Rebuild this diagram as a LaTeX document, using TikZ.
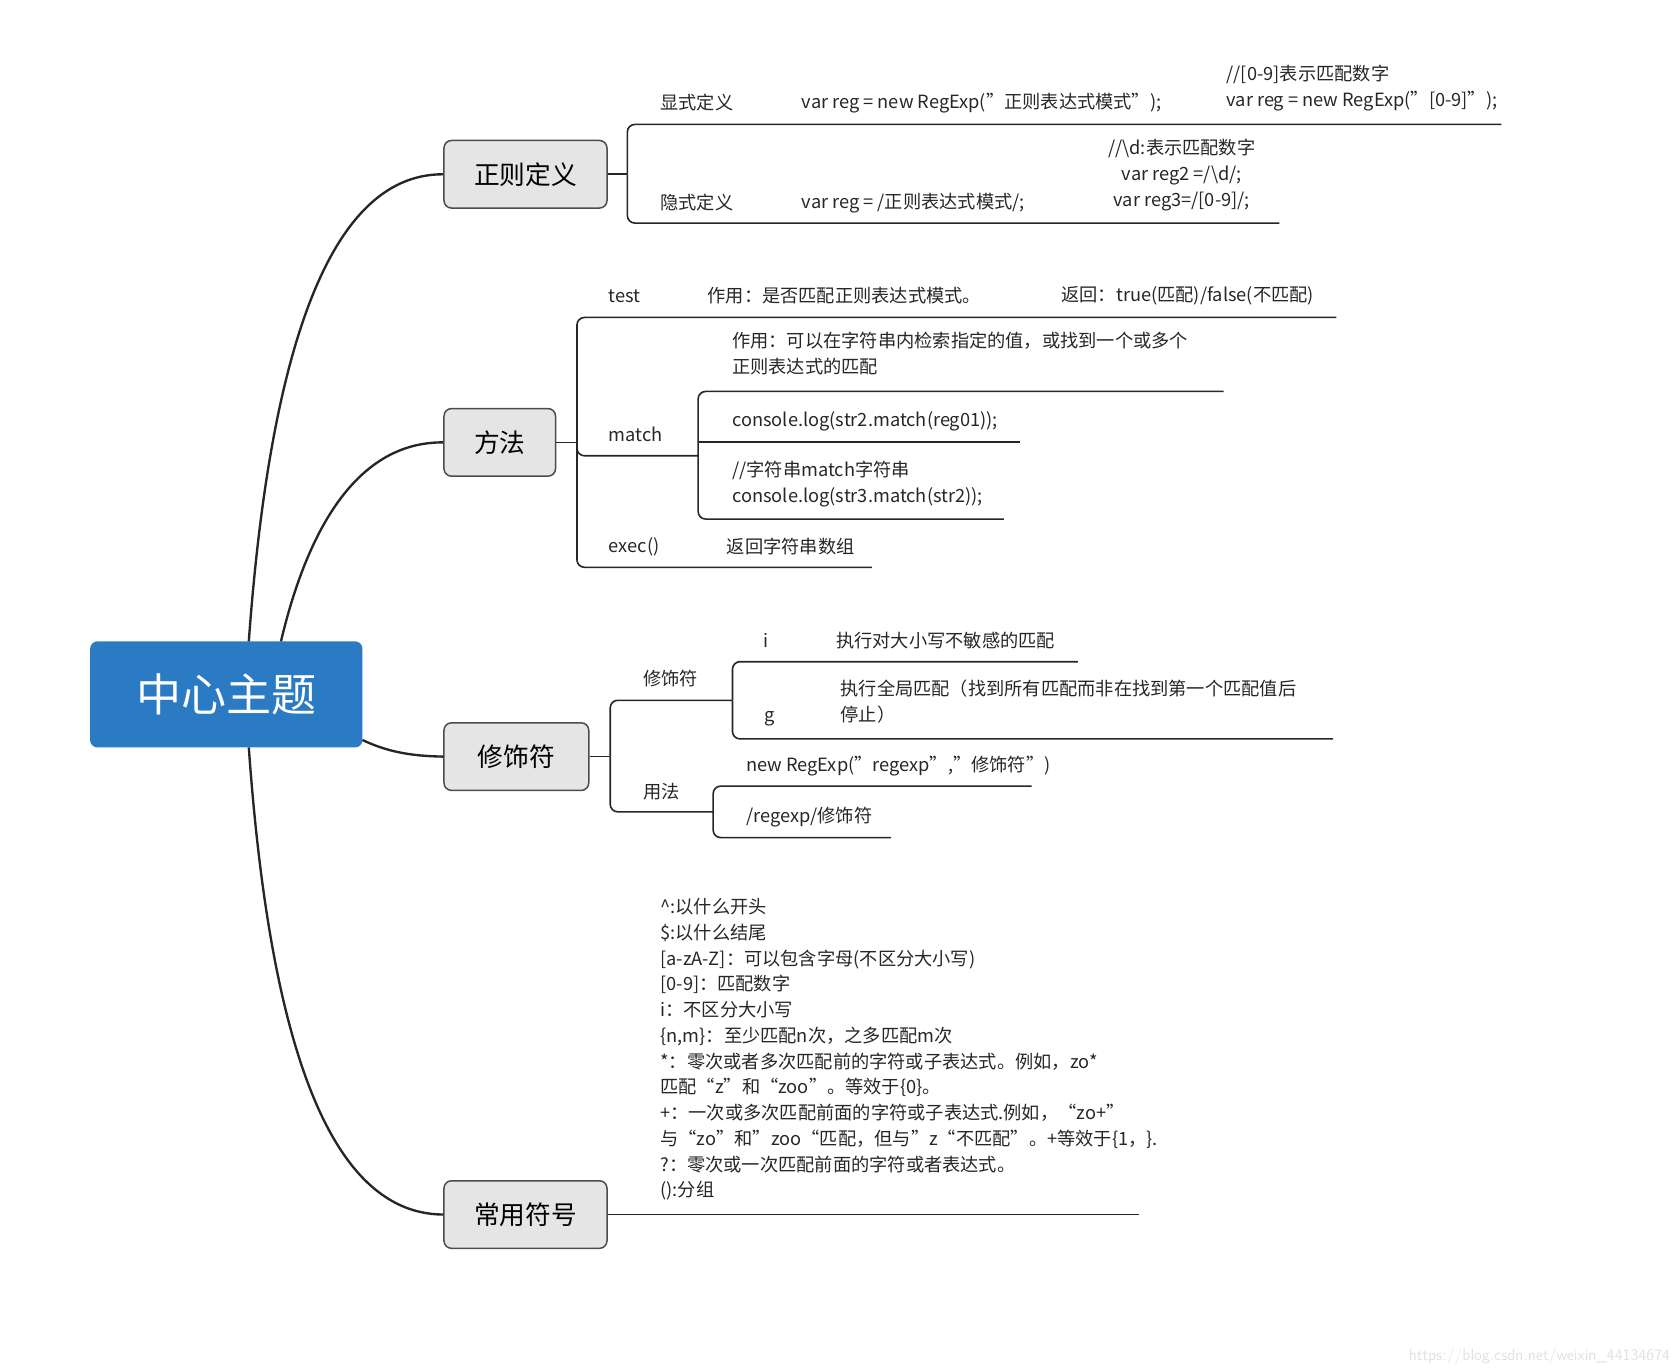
\documentclass[tikz,border=0pt]{standalone}
\usepackage{fontspec}
\setmainfont{Noto Sans CJK SC}
\begin{document}
\begin{tikzpicture}[x=1pt,y=-1pt,line width=1.6pt,
  txt/.style={anchor=west,inner sep=0pt,font=\fontsize{17}{24}\selectfont,text=black!85,align=left},
  topic/.style={draw=black!70,fill=black!10,rounded corners=7pt,line width=1.4pt,font=\fontsize{24}{28}\selectfont,inner sep=0pt},
  br/.style={draw=black!85,rounded corners=7pt,line width=1.5pt},
  cv/.style={draw=black!85,line width=2.2pt}]
\useasboundingbox (0,0) rectangle (1560,1276);
\node[fill={rgb,255:red,42;green,122;blue,196},rounded corners=7pt,minimum width=254pt,minimum height=99pt,text=white,font=\fontsize{42}{46}\selectfont] (c) at (211,647.5) {中心主题};
\node[topic,minimum width=152pt,minimum height=63pt] (t1) at (490,162.5) {正则定义};
\node[topic,minimum width=104pt,minimum height=63pt] (t2) at (466,412.5) {方法};
\node[topic,minimum width=135pt,minimum height=63pt] (t3) at (481.5,705.5) {修饰符};
\node[topic,minimum width=152pt,minimum height=63pt] (t4) at (490,1132.5) {常用符号};
\coordinate (c1) at (232,598); \coordinate (c2) at (262,598);
\coordinate (c3) at (338,690); \coordinate (c4) at (232,697);
\draw[cv] (c1) .. controls (250,350) and (300,162) .. (t1.west);
\draw[cv] (c2) .. controls (290,480) and (340,412) .. (t2.west);
\draw[cv] (c3) .. controls (365,703) and (390,705) .. (t3.west);
\draw[cv] (c4) .. controls (250,950) and (300,1132) .. (t4.west);
% topic 1
\draw[br] (t1.east) -- (585,162.5);
\draw[br] (585,162.5) -- (585,116) -- (1400,116);
\draw[br] (585,162.5) -- (585,208) -- (1193,208);
\node[txt] (a1) at (615,96) {显式定义};
\node[txt] (a2) at (747,96) {var reg = new RegExp("正则表达式模式");};
\node[txt,anchor=north west] (a3) at (1143,60) {//[0-9]表示匹配数字\\var reg = new RegExp("[0-9]");};
\node[txt] (b1) at (615,189) {隐式定义};
\node[txt] (b2) at (747,189) {var reg = /正则表达式模式/;};
\node[txt,anchor=north,align=center] (b3) at (1102,129) {//\textbackslash d:表示匹配数字\\var reg2 =/\textbackslash d/;\\var reg3=/[0-9]/;};
% topic 2
\draw[br] (t2.east) -- (538,412.5);
\draw[br] (538,412.5) -- (538,296) -- (1246,296);
\draw[br] (538,412.5) -- (538,529) -- (813,529);
\draw[br] (538,412.5) -- (538,425) -- (651,425);
\draw[br] (651,425) -- (651,365) -- (1141,365);
\draw[br] (651,412) -- (951,412);
\draw[br] (651,425) -- (651,484) -- (936,484);
\node[txt] at (567,276) {test};
\node[txt] at (659,276) {作用：是否匹配正则表达式模式。};
\node[txt] at (989,276) {返回：true(匹配)/false(不匹配)};
\node[txt] at (567,405) {match};
\node[txt,anchor=north west] at (682,309) {作用：可以在字符串内检索指定的值，或找到一个或多个\\正则表达式的匹配};
\node[txt] at (682,393) {console.log(str2.match(reg01));};
\node[txt,anchor=north west] at (682,429) {//字符串match字符串\\console.log(str3.match(str2));};
\node[txt] at (567,510) {exec()};
\node[txt] at (677,510) {返回字符串数组};
% topic 3
\draw[br] (t3.east) -- (569,705.5);
\draw[br] (569,705.5) -- (569,653) -- (683,653);
\draw[br] (569,705.5) -- (569,757) -- (665,757);
\draw[br] (683,653) -- (683,617) -- (1005,617);
\draw[br] (683,653) -- (683,689) -- (1243,689);
\draw[br] (665,757) -- (665,733) -- (962,733);
\draw[br] (665,757) -- (665,781) -- (831,781);
\node[txt] at (599,633) {修饰符};
\node[txt] at (711,597) {i};
\node[txt] at (779,597) {执行对大小写不敏感的匹配};
\node[txt] at (712,670) {g};
\node[txt,anchor=north west] at (783,633) {执行全局匹配（找到所有匹配而非在找到第一个匹配值后\\停止）};
\node[txt] at (599,738) {用法};
\node[txt] at (695,714) {new RegExp("regexp","修饰符")};
\node[txt] at (695,762) {/regexp/修饰符};
% topic 4
\draw[br] (t4.east) -- (1062,1132.5);
\node[txt,anchor=north west] at (615,837) {\^{}:以什么开头\\\$:以什么结尾\\[0pt][a-zA-Z]：可以包含字母(不区分大小写)\\[0pt][0-9]：匹配数字\\i：不区分大小写\\\{n,m\}：至少匹配n次，之多匹配m次\\*：零次或者多次匹配前的字符或子表达式。例如，zo*\\匹配“z”和“zoo”。等效于\{0\}。\\+：一次或多次匹配前面的字符或子表达式.例如，“zo+”\\与“zo”和”zoo“匹配，但与”z“不匹配”。+等效于\{1，\}.\\?：零次或一次匹配前面的字符或者表达式。\\():分组};
\node[anchor=east,inner sep=0pt,text=black!12,font=\fontsize{15}{18}\selectfont\sffamily] (wm) at (1558,1265) {https://blog.csdn.net/weixin\_44134674};
\end{tikzpicture}
\end{document}
